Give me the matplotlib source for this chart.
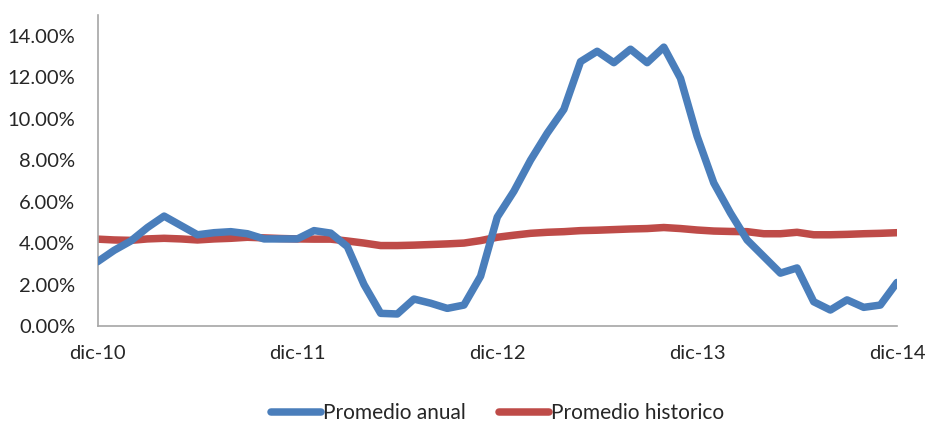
import matplotlib
matplotlib.use("Agg")
import matplotlib.pyplot as plt
from matplotlib.ticker import FuncFormatter, MultipleLocator

# Monthly series, Dec-2010 .. Dec-2014 (49 months), values in percent
promedio_anual = [
    3.1, 3.65, 4.1, 4.75, 5.3, 4.85, 4.4, 4.5, 4.55, 4.45, 4.2, 4.2, 4.2,
    4.6, 4.48, 3.83, 2.0, 0.61, 0.58, 1.3, 1.1, 0.85, 1.01, 2.4, 5.25,
    6.5, 8.0, 9.3, 10.45, 12.75, 13.25, 12.7, 13.35, 12.7, 13.45, 11.95,
    9.15, 6.9, 5.45, 4.15, 3.35, 2.55, 2.8, 1.17, 0.77, 1.26, 0.9, 1.01, 2.1,
]
promedio_historico = [
    4.19, 4.15, 4.13, 4.2, 4.23, 4.2, 4.15, 4.2, 4.23, 4.28, 4.25, 4.22, 4.2,
    4.19, 4.19, 4.1, 4.0, 3.88, 3.88, 3.9, 3.93, 3.96, 4.0, 4.12, 4.28,
    4.38, 4.47, 4.52, 4.55, 4.6, 4.62, 4.65, 4.68, 4.7, 4.75, 4.7,
    4.63, 4.58, 4.56, 4.55, 4.45, 4.45, 4.52, 4.4, 4.4, 4.42, 4.45, 4.47, 4.5,
]
tick_labels = ["dic-10", "dic-11", "dic-12", "dic-13", "dic-14"]
series_names = ["Promedio anual", "Promedio historico"]

plt.rcParams["font.family"] = ["Lato", "DejaVu Sans"]

fig = plt.figure(figsize=(9.30, 4.23), dpi=100)
ax = fig.add_axes([97.5 / 930, 97 / 423, (897 - 97.5) / 930, (326 - 15) / 423])

months = list(range(len(promedio_anual)))
ax.plot(months, promedio_anual, color="#4A7EBB", lw=5.4,
        solid_joinstyle="round", solid_capstyle="round", label=series_names[0], zorder=3)
ax.plot(months, promedio_historico, color="#BE4B48", lw=5.4,
        solid_joinstyle="round", solid_capstyle="round", label=series_names[1], zorder=2)

ax.set_xlim(0, 48)
ax.set_ylim(0, 15)
ax.yaxis.set_major_locator(MultipleLocator(2))
ax.yaxis.set_major_formatter(FuncFormatter(lambda v, _: f"{v:.2f}%" if v <= 14.001 else ""))
ax.set_xticks([0, 12, 24, 36, 48])
ax.set_xticklabels(tick_labels)

for side in ("top", "right"):
    ax.spines[side].set_visible(False)
for side in ("left", "bottom"):
    ax.spines[side].set_color("#A6A6A6")
    ax.spines[side].set_linewidth(1.2)

ax.tick_params(axis="y", length=0, pad=16, labelsize=14.5, labelcolor="#262626")
ax.tick_params(axis="x", length=0, pad=14, labelsize=14.5, labelcolor="#262626")

leg = fig.legend(loc="center", bbox_to_anchor=(497.5 / 930, (423 - 413) / 423),
                 ncol=2, frameon=False, fontsize=15, handlelength=2.4,
                 handletextpad=0.1, columnspacing=1.6)
for t in leg.get_texts():
    t.set_color("#262626")

fig.savefig("out.png", dpi=100)
